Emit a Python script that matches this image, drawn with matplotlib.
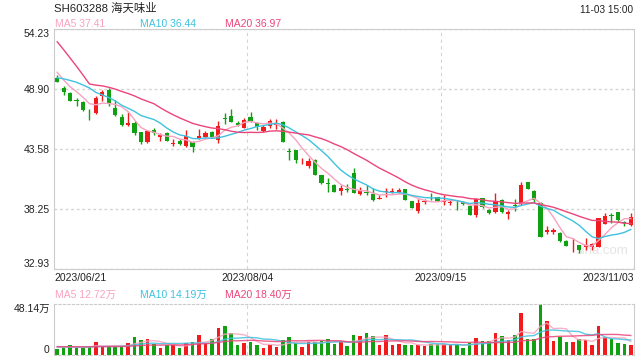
import numpy as np
import pandas as pd
import matplotlib
matplotlib.use('Agg')
import matplotlib.pyplot as plt

plt.rcParams['font.family'] = ['Liberation Sans', 'Noto Sans CJK SC']

title = "SH603288 海天味业"
stamp = "11-03 15:00"
x_labels = ['2023/06/21', '2023/08/04', '2023/09/15', '2023/11/03']
y_ticks = [32.93, 38.25, 43.58, 48.90, 54.23]

# daily candles (yuan)
opens = [49.91, 48.95, 48.52, 47.92, 47.78, 46.80, 46.78, 48.25, 48.82, 47.25,
         46.42, 45.74, 45.93, 45.05, 44.20, 45.30, 44.67, 45.00, 44.03, 44.33,
         43.85, 44.20, 44.55, 44.67, 45.12, 44.40, 46.26, 46.51, 45.86, 45.47,
         46.39, 45.86, 45.18, 45.62, 45.74, 46.00, 43.36, 43.49, 42.30, 42.10,
         42.60, 41.27, 40.50, 40.39, 39.88, 40.02, 41.42, 39.56, 39.72, 39.59,
         39.15, 39.75, 39.78, 39.72, 39.99, 38.96, 38.05, 38.88, 39.42, 39.29,
         38.88, 38.80, 38.88, 38.90, 38.55, 37.72, 39.20, 38.20, 37.95, 39.05,
         37.82, 38.60, 38.76, 40.62, 39.88, 38.80, 36.18, 36.25, 36.15, 35.44,
         34.93, 35.06, 34.88, 34.85, 34.91, 36.92, 37.72, 37.96, 37.13, 36.80]
highs = [50.15, 49.20, 48.60, 48.14, 47.84, 47.13, 48.30, 48.85, 48.96, 47.95,
         46.66, 46.89, 46.06, 45.10, 45.30, 45.40, 44.97, 45.05, 44.47, 44.47,
         45.30, 44.25, 45.38, 45.15, 45.20, 46.06, 46.75, 47.13, 46.05, 46.30,
         46.83, 45.95, 45.70, 46.24, 46.24, 46.06, 43.70, 43.49, 42.81, 42.75,
         42.66, 41.30, 40.98, 40.45, 40.40, 40.50, 41.86, 40.18, 40.38, 40.10,
         39.50, 40.15, 40.08, 40.10, 40.05, 39.00, 39.10, 39.10, 39.65, 39.30,
         39.50, 39.10, 39.05, 38.95, 38.60, 39.20, 39.25, 38.25, 39.70, 39.15,
         38.20, 39.10, 40.68, 40.68, 39.90, 38.85, 36.75, 36.55, 36.20, 35.48,
         35.65, 35.10, 35.65, 35.20, 37.50, 37.87, 37.87, 38.00, 37.20, 37.87]
lows = [49.50, 48.37, 47.80, 47.37, 46.95, 46.15, 46.72, 47.82, 47.43, 46.51,
        45.65, 45.65, 44.82, 43.99, 44.08, 44.82, 44.29, 44.25, 43.88, 43.94,
        43.79, 43.34, 44.50, 44.60, 44.60, 44.14, 45.77, 45.95, 45.60, 45.40,
        45.95, 45.27, 45.10, 45.41, 45.35, 44.23, 42.60, 42.31, 42.28, 41.87,
        41.27, 40.50, 39.79, 39.79, 39.50, 39.80, 39.70, 39.50, 39.50, 39.00,
        39.10, 39.35, 39.65, 39.65, 39.05, 38.35, 37.93, 38.70, 39.02, 38.95,
        38.60, 38.60, 38.17, 38.60, 37.70, 37.57, 38.35, 37.85, 37.87, 37.93,
        37.34, 38.10, 38.60, 40.00, 38.90, 35.80, 36.05, 36.05, 35.30, 34.95,
        34.47, 34.35, 34.60, 34.60, 34.85, 36.90, 37.05, 37.10, 36.74, 36.75]
closes = [49.56, 48.60, 47.85, 47.83, 47.00, 46.74, 48.10, 48.61, 47.63, 46.60,
          45.71, 45.92, 44.98, 44.20, 45.20, 45.04, 44.85, 44.30, 44.07, 44.03,
          44.70, 43.75, 44.75, 45.03, 44.65, 45.60, 46.22, 46.00, 45.71, 46.15,
          46.07, 45.56, 45.56, 46.07, 45.80, 44.23, 43.32, 42.60, 42.36, 42.51,
          41.27, 40.56, 40.45, 39.79, 40.09, 39.98, 39.70, 39.88, 39.68, 39.05,
          39.22, 39.82, 39.84, 39.96, 39.08, 38.37, 38.76, 38.92, 39.38, 38.99,
          38.92, 38.85, 38.84, 38.67, 37.72, 39.11, 38.40, 37.87, 38.95, 37.98,
          37.95, 38.55, 40.40, 40.05, 39.05, 35.80, 36.35, 36.40, 35.45, 34.97,
          34.97, 34.64, 35.06, 35.18, 37.48, 37.65, 37.60, 37.25, 37.00, 37.55]
# volume in 万手
volumes = [5.7, 6.9, 9.4, 6.9, 6.9, 7.9, 12.6, 7.9, 7.9, 7.9,
           7.9, 11.6, 17.3, 14.2, 14.8, 10.0, 6.9, 9.4, 9.4, 6.9,
           11.0, 12.6, 18.9, 11.0, 15.1, 25.8, 27.4, 21.1, 9.4, 11.6,
           12.6, 9.4, 6.9, 9.4, 7.9, 14.2, 17.3, 11.0, 7.9, 12.6,
           12.6, 13.2, 15.1, 10.4, 12.6, 8.5, 18.9, 17.9, 20.4, 17.9,
           9.4, 18.9, 9.4, 10.4, 9.4, 9.4, 9.4, 8.5, 10.4, 10.4,
           10.4, 9.4, 10.4, 6.6, 11.6, 15.7, 13.2, 13.2, 21.1, 17.9,
           14.2, 18.5, 39.3, 15.1, 15.5, 48.14, 32.5, 13.2, 17.0, 12.6,
           12.6, 15.1, 14.2, 9.4, 27.0, 16.7, 15.5, 11.6, 10.4, 9.4]

# the 19 sessions before the window, only needed for the moving averages
hist_closes = [62.8, 62.5, 62.7, 62.4, 62.6, 50.2, 49.9, 50.1, 49.8, 49.9,
               49.6, 49.3, 49.5, 49.4, 49.35, 52.05, 50.84, 50.0, 49.5]
hist_volumes = [8.5, 9.0, 7.5, 8.0, 8.2, 7.8, 8.4, 7.6, 8.1, 7.9,
                8.3, 7.7, 8.0, 7.5, 8.2, 7.9, 8.1, 7.6, 8.0]

RED = '#f21b1b'
GREEN = '#11a011'
C5, C10, C20 = '#f7a3c0', '#3ec2e0', '#ec457a'
GRID = '#d4d4d4'


def moving_avg(hist, vals, n):
    s = pd.Series(hist + vals).rolling(n).mean()
    return s.iloc[len(hist):].to_numpy()


n = len(closes)
x = np.arange(n)
o = np.array(opens)
c = np.array(closes)
up = c >= o
colors = np.where(up, RED, GREEN)

ma = {k: moving_avg(hist_closes, closes, k) for k in (5, 10, 20)}
vma = {k: moving_avg(hist_volumes, volumes, k) for k in (5, 10, 20)}

fig = plt.figure(figsize=(6.4, 3.6), dpi=100)
ax = fig.add_axes([54 / 640, 91 / 360, 580 / 640, 240 / 360])
vax = fig.add_axes([54 / 640, 5 / 360, 580 / 640, 51 / 360])

# ---- price panel
ax.vlines(x, lows, highs, colors=colors, lw=1, zorder=2)
body = np.maximum(np.abs(c - o), 0.07)
ax.bar(x, body, bottom=np.minimum(o, c), width=0.66, color=colors, lw=0, zorder=3)
for k, col in ((5, C5), (10, C10), (20, C20)):
    ax.plot(x, ma[k], color=col, lw=1.0, zorder=4)

# watermark
ax.text(0.945, 0.075, 'sina.com', transform=ax.transAxes, ha='center', va='center',
        fontsize=9.5, color='#e4e4e4', zorder=1)

ax.set_xlim(-0.5, n - 0.5)
ax.set_ylim(y_ticks[0], y_ticks[-1])
ax.set_yticks(y_ticks)
ax.set_yticklabels([f'{v:.2f}' for v in y_ticks])
ax.grid(axis='y', linestyle=(0, (2, 2)), color=GRID, lw=1)
for gx in (29.5, 59.5):
    ax.axvline(gx, color=GRID, lw=0.8, linestyle=(0, (3, 3)), zorder=0)
ax.set_xticks([-0.5, 29.5, 59.5, n - 0.5])
ax.set_xticklabels(x_labels)
ax.tick_params(length=0, labelsize=7.5, colors='#222222', pad=3)
xl = ax.get_xticklabels()
xl[0].set_ha('left')
xl[-1].set_ha('right')
yl = ax.get_yticklabels()
yl[0].set_va('bottom')
yl[-1].set_va('top')
for sp in ax.spines.values():
    sp.set_color('#cccccc')

# ---- volume panel
vax.bar(x, volumes, width=0.55, color=colors, lw=0, zorder=2)
for k, col in ((5, C5), (10, C10), (20, C20)):
    vax.plot(x, vma[k], color=col, lw=1.0, alpha=0.85, zorder=3)
vmax = max(volumes)
vax.set_xlim(-0.5, n - 0.5)
vax.set_ylim(0, vmax)
vax.set_yticks([0, vmax])
vax.set_yticklabels(['0', f'{vmax:.2f}万'])
vax.set_xticks([])
for gx in (29.5, 59.5):
    vax.axvline(gx, color=GRID, lw=0.8, linestyle=(0, (3, 3)), zorder=0)
vax.tick_params(length=0, labelsize=7.5, colors='#222222', pad=3)
vyl = vax.get_yticklabels()
vyl[0].set_va('bottom')
vyl[-1].set_va('top')
for name, sp in vax.spines.items():
    sp.set_color('#cccccc')
    if name in ('top', 'bottom'):
        sp.set_linestyle((0, (2, 2)))

# ---- header texts
fig.text(54 / 640, 1 - 8 / 360, title, fontsize=8.2, color='#222222', va='center')
fig.text(633 / 640, 1 - 10 / 360, stamp, fontsize=7.2, color='#222222', ha='right', va='center')
for xp, k, col in ((55, 5, C5), (140, 10, C10), (225, 20, C20)):
    fig.text(xp / 640, 1 - 24 / 360, f'MA{k} {ma[k][-1]:.2f}', fontsize=7.5, color=col, va='center')
    fig.text(xp / 640, 1 - 295 / 360, f'MA{k} {vma[k][-1]:.2f}万', fontsize=7.5, color=col, va='center')

fig.savefig('out.png', dpi=100)
